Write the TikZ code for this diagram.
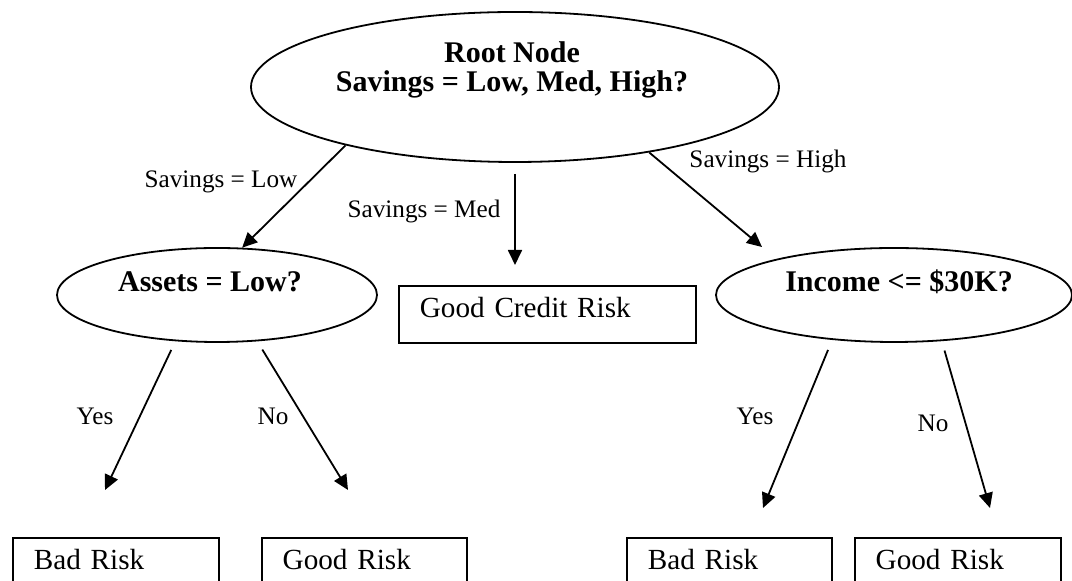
\documentclass[tikz,border=0pt]{standalone}
\usepackage{fontspec}
\setmainfont{Liberation Serif}
\usetikzlibrary{shapes.geometric, arrows.meta, positioning}

\begin{document}
\begin{tikzpicture}[x=0.5pt, y=-0.5pt]
\tikzstyle{decision} = [ellipse, draw = black, line width = 0.9pt, inner sep = 0pt]
\tikzstyle{leaf} = [rectangle, draw = black, line width = 0.9pt, anchor = north west, minimum height = 28.5pt, inner ysep = 0pt, inner xsep = 10.5pt, text height = 10pt, text depth = 6.5pt, align = left, font = \fontsize{14.6}{17}\selectfont]
\tikzstyle{question} = [inner sep = 0pt, anchor = base, align = center, font = \fontsize{15}{14.5}\selectfont\bfseries]
\tikzstyle{branch} = [inner sep = 0pt, anchor = base, font = \fontsize{12.6}{15}\selectfont]
\tikzstyle{connect} = [-{Triangle[length = 7.5pt, width = 7pt]}, line width = 0.9pt]
\useasboundingbox (0,0) rectangle (1072,581);
  % tests
  \node[decision, minimum width = 264pt, minimum height = 75pt] (root) at (515,87) {};
  \node[decision, minimum width = 160pt, minimum height = 47pt] (assets) at (217,295) {};
  \node[decision, minimum width = 178pt, minimum height = 47pt] (income) at (894,295) {};
  \node[question] (roottxt) at (512,92) {Root Node\\Savings = Low, Med, High?};
  \node[question] (assetstxt) at (210,292) {Assets = Low?};
  \node[question] (incometxt) at (899,292) {Income <= \$30K?};
  % leaves
  \node[leaf, text width = 127.5pt] (credit) at (398,285) {Good Credit Risk};
  \node[leaf, text width = 82pt] (badL) at (12,537) {Bad Risk};
  \node[leaf, text width = 81.5pt, right = 20.5pt of badL] (goodL) {Good Risk};
  \node[leaf, text width = 81.5pt] (badR) at (626,537) {Bad Risk};
  \node[leaf, text width = 82pt, right = 10.5pt of badR] (goodR) {Good Risk};
  % arrow ends
  \coordinate (hightip) at (762,247);
  \coordinate (ayes) at (105,490);
  \coordinate (ano) at (348,490);
  \coordinate (iyes) at (763,508);
  \coordinate (ino) at (990,508);
\path (root.199) edge [connect] (assets.62)
      (root.-26.4) edge [connect] (hightip);
\draw[connect, shorten <= 5.5pt, shorten >= 10pt] (root.south) -- (root.south |- credit.north);
\path (assets.228.3) edge [connect, shorten <= 4.8pt] (ayes)
      (assets.311.5) edge [connect, shorten <= 4.8pt] (ano)
      (income.216.2) edge [connect, shorten <= 5.4pt] (iyes)
      (income.316.2) edge [connect, shorten <= 4.9pt] (ino);
  % branch labels
  \node[branch] (lowlbl) at (221,188) {Savings = Low};
  \node[branch] (medlbl) at (424,218) {Savings = Med};
  \node[branch] (highlbl) at (768,168) {Savings = High};
  \node[branch] (ayeslbl) at (95,425) {Yes};
  \node[branch] (anolbl) at (273,425) {No};
  \node[branch] (iyeslbl) at (755,425) {Yes};
  \node[branch] (inolbl) at (933,432) {No};
\end{tikzpicture}
\end{document}
